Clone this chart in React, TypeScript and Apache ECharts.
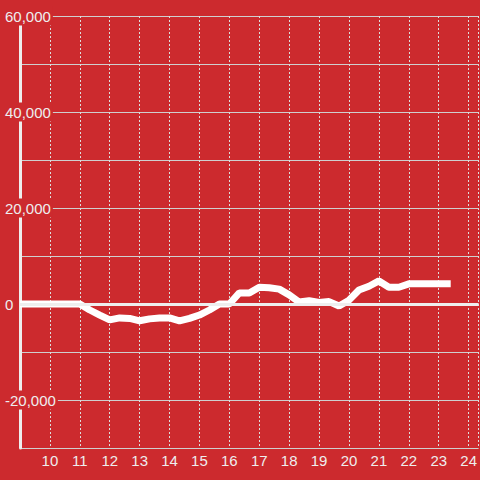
import React, { useEffect, useRef } from "react";
import * as echarts from "echarts";

// hours of day (decimal) and net value
const hours = [
  9, 9.333, 9.667, 10, 10.333, 10.667, 11, 11.333, 11.667, 12, 12.333, 12.667,
  13, 13.333, 13.667, 14, 14.333, 14.667, 15, 15.333, 15.667, 16, 16.333, 16.667,
  17, 17.333, 17.667, 18, 18.333, 18.667, 19, 19.333, 19.667, 20, 20.333, 20.667,
  21, 21.333, 21.667, 22, 22.333, 22.667, 23, 23.333, 23.4,
];
const values = [
  0, 0, 0, 0, 0, 0, 0, -1250, -2300, -3300, -2900, -3000,
  -3500, -3100, -2900, -2900, -3500, -3000, -2300, -1250, 0, 0, 2300, 2300,
  3500, 3400, 3100, 1900, 400, 700, 300, 500, -400, 800, 2900, 3700,
  4800, 3500, 3500, 4200, 4200, 4200, 4200, 4200, 4200,
];
const xMin = 9;
const xMax = 24.333;
const yMin = -30000;
const yMax = 60000;
const yStep = 10000;
const yLabelStep = 20000;

const BG = "#cc2a2e";

export default function App() {
  const ref = useRef<HTMLDivElement>(null);
  useEffect(() => {
    if (!ref.current) return;
    const chart = echarts.init(ref.current, undefined, { renderer: "svg" });
    chart.setOption({
      animation: false,
      backgroundColor: BG,
      grid: { left: 20, right: 0, top: 16, bottom: 32, containLabel: false },
      xAxis: {
        type: "value",
        min: xMin,
        max: xMax,
        interval: 1,
        axisLine: { show: false },
        axisTick: { show: false },
        axisLabel: {
          showMinLabel: false,
          showMaxLabel: false,
          color: "#eeeeee",
          fontFamily: "Liberation Sans",
          fontSize: 15,
          margin: 5,
          formatter: (v: number) => (Number.isInteger(v) ? String(v) : ""),
        },
        splitLine: {
          show: true,
          lineStyle: { color: "#dddddd", width: 1, type: [2, 2] },
        },
      },
      yAxis: {
        type: "value",
        min: yMin,
        max: yMax,
        interval: yStep,
        axisLine: { show: true, onZero: false, lineStyle: { color: "#eeeeee", width: 3 } },
        axisTick: { show: false },
        axisLabel: {
          color: "#eeeeee",
          fontFamily: "Liberation Sans",
          fontSize: 15,
          align: "left",
          margin: 15,
          backgroundColor: BG,
          padding: [2, 2, 2, 0],
          formatter: (v: number) =>
            v % yLabelStep === 0 ? v.toLocaleString("en-US") : "",
        },
        splitLine: {
          show: true,
          lineStyle: { color: "#cfcfcf", width: 1 },
        },
      },
      series: [
        {
          type: "line",
          data: hours.map((h, i) => [h, values[i]]),
          showSymbol: false,
          symbol: "none",
          lineStyle: { color: "#ffffff", width: 7 },
          markLine: {
            silent: true,
            symbol: "none",
            label: { show: false },
            lineStyle: { color: "#eeeeee", width: 3, type: "solid" },
            data: [{ yAxis: 0 }],
          },
        },
      ],
    });
    return () => chart.dispose();
  }, []);
  return (
    <div
      ref={ref}
      style={{ position: "fixed", left: 0, top: 0, width: 480, height: 480 }}
    />
  );
}
